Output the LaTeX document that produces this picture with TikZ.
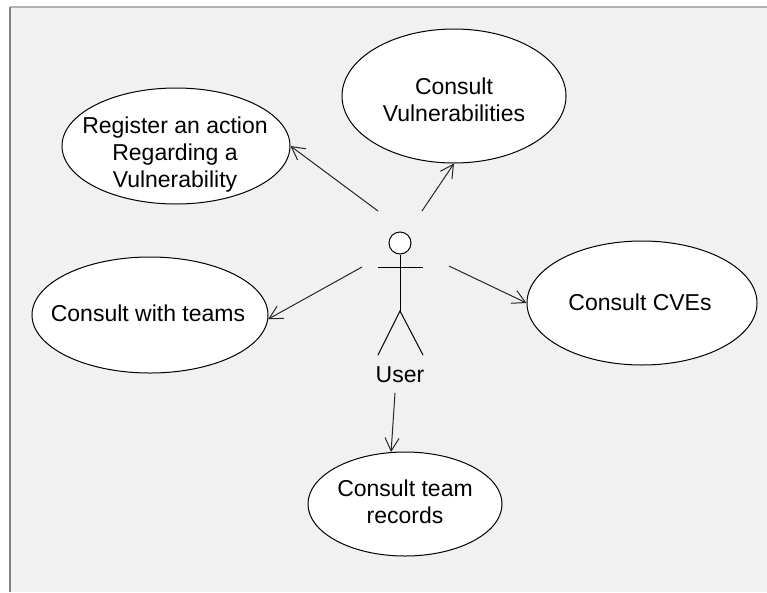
\documentclass[tikz,border=0pt]{standalone}
\usepackage{fontspec}
\setmainfont{Liberation Sans}
\usetikzlibrary{arrows.meta,shapes.geometric}
\begin{document}
\begin{tikzpicture}[x=1pt,y=-1pt,
  uc/.style={ellipse,draw=black,fill=white,line width=1pt,inner sep=0pt},
  uctext/.style={inner sep=0pt,align=center,font=\fontsize{23}{27}\selectfont},
  link/.style={draw=black!85,line width=1pt,-{Straight Barb[length=13pt,width=14pt,line width=1pt]}},
  stick/.style={draw=black,line width=1pt}]
\useasboundingbox (0,0) rectangle (767,592);
\fill[white] (0,0) rectangle (767,592);
\fill[black!5.5] (10,7) rectangle (767,592);
\draw[black!30,line width=2pt] (10,7) -- (767,7);
\draw[black!50,line width=1.5pt] (10,7) -- (10,592);
% use cases
\node[uc,minimum width=228pt,minimum height=116pt] (reg) at (176,146) {};
\node[uctext] (regt) at (175,155) {Register an action\\Regarding a\\Vulnerability};
\node[uc,minimum width=224pt,minimum height=134pt] (vul) at (454,96) {};
\node[uctext] (vult) at (454,100) {Consult\\Vulnerabilities};
\node[uc,minimum width=236pt,minimum height=116pt] (teams) at (150,315) {};
\node[uctext] (teamst) at (148,313) {Consult with teams};
\node[uc,minimum width=230pt,minimum height=124pt] (cve) at (642,303) {};
\node[uctext] (cvet) at (640,302) {Consult CVEs};
\node[uc,minimum width=194pt,minimum height=104pt] (rec) at (405,504) {};
\node[uctext] (rect) at (405,502) {Consult team\\records};
% actor
\node[circle,draw=black,fill=white,line width=1pt,minimum size=22pt,inner sep=0pt] (head) at (400,243) {};
\coordinate (hip) at (400,311);
\draw[stick] (head.south) -- (hip);
\draw[stick] (378,267) coordinate (larm) -- (423,267) coordinate (rarm);
\draw[stick] (378,355) coordinate (lleg) -- (hip) -- (423,355) coordinate (rleg);
\node[font=\fontsize{23}{27}\selectfont,inner sep=0pt] (user) at (400,375) {User};
% connector start points
\coordinate (s1) at (378,211);
\coordinate (s2) at (422,211);
\coordinate (s3) at (362,267);
\coordinate (s4) at (449,266);
\coordinate (s5) at (395,393);
\draw[link] (s1) -- (reg.east);
\draw[link] (s2) -- (vul.south);
\draw[link] (s3) -- (teams.-2);
\draw[link] (s4) -- (cve.west);
\draw[link] (s5) -- (rec.105);
\end{tikzpicture}
\end{document}
